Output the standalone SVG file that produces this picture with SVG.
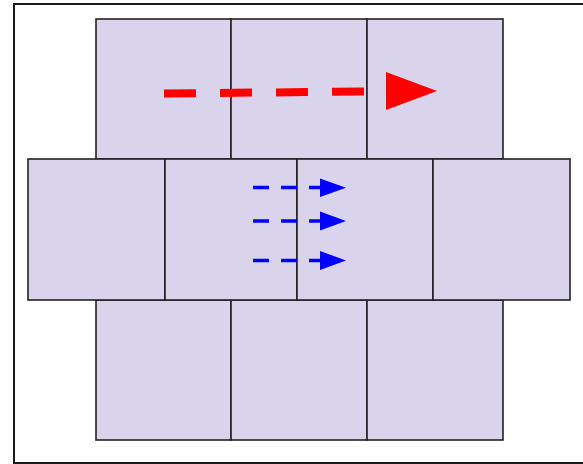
<svg xmlns="http://www.w3.org/2000/svg" width="583" height="464" viewBox="0 0 583 464">
<style>
.cell{fill:#dad3ec;stroke:#222;stroke-width:1.6}
.red{stroke:#ff0000;stroke-width:8;stroke-dasharray:32 24;fill:none}
.blue{stroke:#0000ff;stroke-width:3.5;stroke-dasharray:16 12;fill:none}
</style>
<rect width="583" height="464" fill="#fff"/>
<rect x="14" y="4" width="580" height="459" fill="none" stroke="#1a1a1a" stroke-width="2"/>
<g id="top-row">
<rect id="t1" class="cell" x="96" y="19" width="135" height="140"/>
<rect id="t2" class="cell" x="231" y="19" width="136" height="140"/>
<rect id="t3" class="cell" x="367" y="19" width="136" height="140"/>
</g>
<g id="bottom-row">
<rect id="b1" class="cell" x="96" y="300" width="135" height="140"/>
<rect id="b2" class="cell" x="231" y="300" width="136" height="140"/>
<rect id="b3" class="cell" x="367" y="300" width="136" height="140"/>
</g>
<g id="middle-row">
<rect id="m1" class="cell" x="28" y="159" width="137" height="141"/>
<rect id="m2" class="cell" x="165" y="159" width="132" height="141"/>
<rect id="m3" class="cell" x="297" y="159" width="136" height="141"/>
<rect id="m4" class="cell" x="433" y="159" width="137" height="141"/>
</g>
<g id="connectors">
<path class="red" d="M164 93.5 L365 91.5"/>
<polygon points="386,72 386,110 437,91" fill="#ff0000"/>
<path class="blue" d="M253 187.5 L321 187.5"/>
<polygon points="320,178.5 320,197 346,187.7" fill="#0000ff"/>
<path class="blue" d="M253 221 L321 221"/>
<polygon points="320,211.5 320,230.5 346,221" fill="#0000ff"/>
<path class="blue" d="M253 260.5 L321 260.5"/>
<polygon points="320,251 320,270 346,260.5" fill="#0000ff"/>
</g>
</svg>
